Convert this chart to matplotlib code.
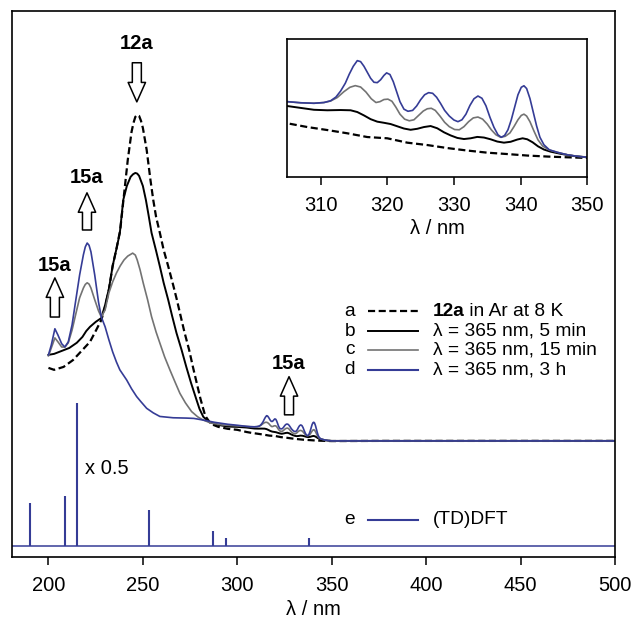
import matplotlib.pyplot as plt

plt.rcParams['font.family'] = ['Liberation Sans', 'DejaVu Sans']

BLUE = '#353c96'
GRAY = '#737373'

# --- spectra (wavelength in nm, absorbance normalised to 12a maximum) ---
nm_a = [200, 203, 208, 213, 218, 222, 225, 228, 230, 232, 234, 236, 238, 240, 242,
        244, 245, 246, 247, 248, 249, 250, 252, 254, 255.5, 257, 259, 261, 263.5, 266,
        268, 270, 272, 274.5, 276.5, 278.5, 280.5, 283, 286, 290, 295, 300,
        305, 308, 311, 314, 317, 320, 323, 326, 329, 332, 335, 338, 341, 344, 347, 350,
        375, 400, 450, 500]
abs_a = [0.224, 0.218, 0.227, 0.248, 0.279, 0.304, 0.337, 0.371, 0.411, 0.463, 0.537,
         0.589, 0.647, 0.755, 0.862, 0.948, 0.975, 0.994, 1.0, 0.997, 0.982, 0.960, 0.893,
         0.801, 0.739, 0.687, 0.638, 0.586, 0.534, 0.479, 0.433, 0.383, 0.334, 0.279,
         0.227, 0.178, 0.129, 0.077, 0.052, 0.043, 0.037, 0.034,
         0.0272, 0.0242, 0.0218, 0.0192, 0.0162, 0.0152, 0.0117, 0.0098, 0.0074, 0.0054,
         0.0037, 0.0026, 0.0014, 0.0006, 0.0, -0.0005,
         0.0, 0.0, 0.0, 0.0]

nm_b = [200, 203, 207, 211, 215, 218, 220, 222, 225, 228, 230, 232, 234, 236, 237.8,
        239.6, 241.5, 243.5, 244.8, 246, 247, 248, 250, 251.6, 253, 254.6, 257, 259, 261,
        263.4, 265.5, 267.8, 270.5, 273, 275.5, 278.4, 280, 282, 285, 290, 295, 300,
        305, 307, 309, 311, 313, 314.5, 315.5, 316.5, 317.5, 318.5, 319.5, 320.5, 321.5,
        322.5, 323.5, 324.5, 325.5, 326.5, 327.5, 328.5, 329.5, 330.5, 331.5, 332.5,
        333.5, 334.5, 335.5, 336.5, 337.5, 338.5, 339.5, 340.3, 341, 341.8, 342.6, 343.5,
        344.5, 346, 348, 350, 375, 400, 450, 500]
abs_b = [0.264, 0.267, 0.276, 0.285, 0.301, 0.319, 0.337, 0.350, 0.365, 0.377, 0.417,
         0.466, 0.537, 0.589, 0.638, 0.739, 0.782, 0.810, 0.818, 0.822, 0.820, 0.813,
         0.782, 0.739, 0.693, 0.638, 0.583, 0.535, 0.485, 0.433, 0.383, 0.331, 0.279,
         0.227, 0.178, 0.126, 0.098, 0.074, 0.058, 0.049, 0.044, 0.043,
         0.041, 0.0395, 0.0380, 0.0376, 0.0378, 0.0376, 0.0362, 0.0335, 0.0305, 0.0285,
         0.0276, 0.0266, 0.0248, 0.0230, 0.0220, 0.0228, 0.0242, 0.0250, 0.0232, 0.0200,
         0.0175, 0.0155, 0.0146, 0.0152, 0.0163, 0.0158, 0.0144, 0.0126, 0.0117, 0.0124,
         0.0142, 0.0152, 0.0144, 0.0120, 0.0088, 0.0062, 0.0045, 0.0028, 0.0010, 0.0,
         0.0, 0.0, 0.0, 0.0]

nm_c = [200, 201.5, 203.4, 205, 207, 208.7, 210.5, 212.5, 214.5, 216.5, 218.5, 219.5,
        220.5, 221.5, 222.5, 224.5, 226.5, 228, 230, 232, 234, 236, 238, 240, 242, 244.6,
        246, 247, 248.5, 250.2, 252.5, 254.6, 257, 259, 261.5, 264.3, 267, 269.6, 272.5,
        275.8, 279, 281.9, 286, 292, 300,
        305, 307, 309, 310.5, 311.5, 312.5, 313.5, 314.4, 315.2, 316.0, 316.8, 317.6,
        318.3, 318.9, 319.5, 320.1, 320.7, 321.3, 321.9, 322.6, 323.3, 324.0, 324.7,
        325.4, 326.0, 326.6, 327.2, 327.9, 328.6, 329.3, 330.1, 330.8, 331.5, 332.2,
        332.9, 333.6, 334.3, 335.0, 335.6, 336.3, 337.0, 337.7, 338.4, 339.0, 339.6,
        340.1, 340.5, 340.9, 341.4, 342.0, 342.6, 343.3, 344.3, 345.5, 347, 348.5, 350,
        375, 400, 450, 500]
abs_c = [0.261, 0.285, 0.316, 0.304, 0.288, 0.288, 0.301, 0.340, 0.390, 0.439, 0.469,
         0.480, 0.485, 0.481, 0.469, 0.433, 0.399, 0.380, 0.402, 0.454, 0.488, 0.515,
         0.537, 0.555, 0.567, 0.576, 0.570, 0.555, 0.525, 0.484, 0.433, 0.381, 0.334,
         0.300, 0.258, 0.218, 0.181, 0.146, 0.117, 0.090, 0.074, 0.064, 0.055, 0.049,
         0.046,
         0.0445, 0.0436, 0.0432, 0.0438, 0.0450, 0.0478, 0.0525, 0.0560, 0.0573, 0.0562,
         0.0522, 0.0468, 0.0438, 0.0445, 0.0462, 0.0465, 0.0448, 0.0400, 0.0345, 0.0305,
         0.0292, 0.0300, 0.0335, 0.0370, 0.0388, 0.0392, 0.0375, 0.0330, 0.0280, 0.0245,
         0.0222, 0.0220, 0.0245, 0.0285, 0.0315, 0.0322, 0.0305, 0.0265, 0.0220, 0.0180,
         0.0160, 0.0168, 0.0195, 0.0245, 0.0300, 0.0335, 0.0345, 0.0330, 0.0285, 0.0210,
         0.0140, 0.0090, 0.0058, 0.0040, 0.0020, 0.0008, 0.0,
         0.0, 0.0, 0.0, 0.0]

nm_d = [200, 201.5, 203.4, 205, 207, 208.7, 210.5, 212.5, 214.5, 216.5, 218.5, 219.5,
        220.5, 221.5, 222.5, 224.5, 226.5, 228, 230, 232, 234, 236, 237.8, 241.4, 244,
        246.7, 249, 252, 255.5, 259, 266, 273, 277, 281.9, 288, 295, 300,
        305, 307, 309, 310.5, 311.5, 312.3, 313, 313.7, 314.3, 314.9, 315.5, 316.0,
        316.5, 317.0, 317.5, 318.0, 318.5, 319.0, 319.5, 319.9, 320.4, 320.9, 321.4,
        321.9, 322.5, 323.1, 323.8, 324.4, 325.0, 325.6, 326.2, 326.8, 327.4, 328.0,
        328.6, 329.3, 330.0, 330.6, 331.2, 331.8, 332.4, 333.0, 333.6, 334.2, 334.8,
        335.4, 336.0, 336.6, 337.1, 337.6, 338.1, 338.6, 339.1, 339.6, 340.1, 340.5,
        340.9, 341.4, 341.9, 342.4, 342.9, 343.5, 344.3, 345.5, 347, 348.5, 350,
        375, 400, 450, 500]
abs_d = [0.264, 0.294, 0.344, 0.325, 0.298, 0.288, 0.304, 0.356, 0.433, 0.509, 0.571,
         0.595, 0.607, 0.600, 0.580, 0.509, 0.426, 0.380, 0.350, 0.310, 0.273, 0.242,
         0.218, 0.187, 0.160, 0.136, 0.120, 0.100, 0.086, 0.075, 0.071, 0.070, 0.069,
         0.064, 0.057, 0.051, 0.048,
         0.0445, 0.0436, 0.0432, 0.0438, 0.0452, 0.0482, 0.0530, 0.0592, 0.0665, 0.0728,
         0.0773, 0.0765, 0.0728, 0.0680, 0.0632, 0.0600, 0.0597, 0.0620, 0.0655, 0.0675,
         0.0662, 0.0605, 0.0525, 0.0445, 0.0385, 0.0368, 0.0375, 0.0410, 0.0460, 0.0500,
         0.0517, 0.0512, 0.0480, 0.0430, 0.0375, 0.0330, 0.0298, 0.0285, 0.0300, 0.0345,
         0.0415, 0.0468, 0.0490, 0.0472, 0.0412, 0.0320, 0.0240, 0.0180, 0.0160, 0.0175,
         0.0220, 0.0300, 0.0400, 0.0500, 0.0560, 0.0572, 0.0550, 0.0470, 0.0360, 0.0250,
         0.0160, 0.0100, 0.0060, 0.0040, 0.0020, 0.0008, 0.0,
         0.0, 0.0, 0.0, 0.0]

# (TD)DFT stick spectrum (the 215 nm line is shown x 0.5)
dft_nm = [190, 209, 215, 253, 287, 294, 338]
dft_int = [0.133, 0.154, 0.438, 0.111, 0.046, 0.025, 0.025]
dft_base = -0.322

traces = [
    (nm_a, abs_a, dict(color='black', lw=1.6, ls=(0, (3.2, 1.6)))),
    (nm_b, abs_b, dict(color='black', lw=1.4)),
    (nm_c, abs_c, dict(color=GRAY, lw=1.2)),
    (nm_d, abs_d, dict(color=BLUE, lw=1.2)),
]

fig = plt.figure(figsize=(6.36, 6.23), dpi=100)
ax = fig.add_axes([0.0189, 0.106, 0.948, 0.877])

for x, y, st in traces:
    ax.plot(x, y, **st)

ax.axhline(dft_base, color=BLUE, lw=1.1)
ax.vlines(dft_nm, dft_base, [dft_base + h for h in dft_int], color=BLUE, lw=1.5)

ax.set_xlim(180.7, 500)
ax.set_ylim(-0.356, 1.320)
ax.set_yticks([])
ax.set_xticks(range(200, 501, 50))
ax.tick_params(axis='x', labelsize=14.5, length=5.5, width=1.1, pad=8, direction='out')
ax.set_xlabel('λ / nm', fontsize=14.5, labelpad=4)
for s in ax.spines.values():
    s.set_linewidth(1.2)

# hollow arrows with labels
def hollow_arrow(x, y_tail, y_tip):
    ax.annotate('', xy=(x, y_tip), xytext=(x, y_tail),
                arrowprops=dict(arrowstyle='simple,head_length=14,head_width=12.5,tail_width=6.5',
                                mutation_scale=1, fc='white', ec='black', lw=1.1,
                                shrinkA=0, shrinkB=0))

bold = dict(fontsize=14.5, fontweight='bold', ha='center', va='center')
hollow_arrow(246.8, 1.160, 1.040)
ax.text(246.8, 1.218, '12a', **bold)
hollow_arrow(220.4, 0.647, 0.761)
ax.text(220.4, 0.808, '15a', **bold)
hollow_arrow(203.4, 0.380, 0.500)
ax.text(203.4, 0.538, '15a', **bold)
hollow_arrow(327.4, 0.080, 0.197)
ax.text(327.0, 0.238, '15a', **bold)

ax.text(219.3, -0.084, 'x 0.5', fontsize=14.5, ha='left', va='center')

# hand-made legend
rows = [
    ('a', 0.397, dict(color='black', lw=1.6, ls=(0, (3.2, 1.6))), None),
    ('b', 0.337, dict(color='black', lw=1.4), 'λ = 365 nm, 5 min'),
    ('c', 0.279, dict(color=GRAY, lw=1.2), 'λ = 365 nm, 15 min'),
    ('d', 0.218, dict(color=BLUE, lw=1.5), 'λ = 365 nm, 3 h'),
    ('e', -0.242, dict(color=BLUE, lw=1.5), '(TD)DFT'),
]
for letter, y, st, label in rows:
    ax.text(359.5, y, letter, fontsize=13.8, ha='center', va='center')
    ax.plot([369, 395.5], [y, y], **st)
    if label is None:
        t = ax.text(403.4, y, '12a', fontsize=13.8, fontweight='bold', ha='left', va='center')
        ax.annotate(' in Ar at 8 K', xy=(1, 0), xycoords=t, fontsize=13.8, ha='left', va='bottom')
    else:
        ax.text(403.4, y, label, fontsize=13.8, ha='left', va='center')

# inset zoom 305-350 nm
axi = fig.add_axes([0.4517, 0.7164, 0.4717, 0.221])
for x, y, st in traces:
    axi.plot(x, y, **st)
axi.set_xlim(305, 350)
axi.set_ylim(-0.0155, 0.0946)
axi.set_yticks([])
axi.set_xticks(range(310, 351, 10))
axi.tick_params(axis='x', labelsize=14.5, length=5.5, width=1.1, pad=8.5, direction='out')
axi.set_xlabel('λ / nm', fontsize=14.5, labelpad=3)
for s in axi.spines.values():
    s.set_linewidth(1.2)

fig.savefig('out.png', dpi=100)
